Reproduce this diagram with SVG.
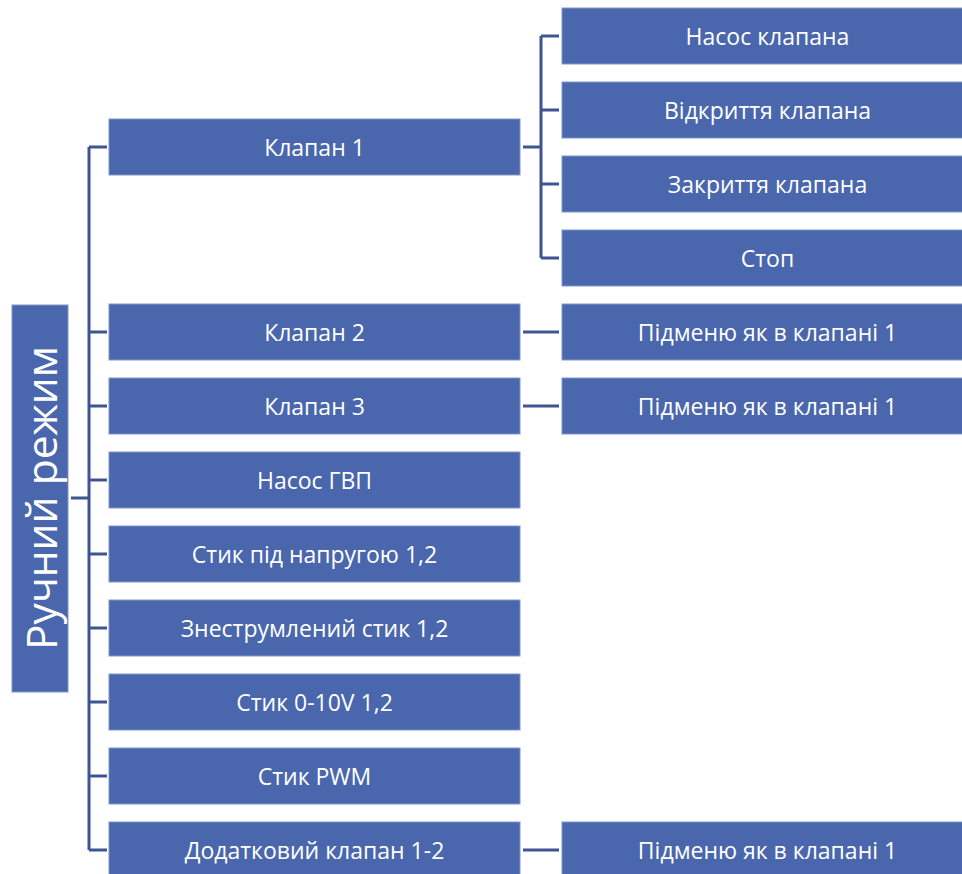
<svg xmlns="http://www.w3.org/2000/svg" width="962" height="874" viewBox="0 0 962 874">
<style>
.b{fill:#4a67ad;stroke:#8095c8;stroke-width:1}
.t{fill:#ffffff;font-family:"Open Sans","Liberation Sans",Arial,sans-serif;font-size:23px;text-anchor:middle;dominant-baseline:central}
.c{fill:none;stroke:#3d5590;stroke-width:3}
</style>
<g id="connectors">
<path class="c" d="M71 498H89M89 147V850M89 147H107M89 332H107M89 406H107M89 480H107M89 554H107M89 628H107M89 702H107M89 776H107M89 850H107"/>
<path class="c" d="M523 147H541M541 36V258M541 36H559M541 110H559M541 184H559M541 258H559"/>
<path class="c" d="M523 332H559M523 406H559M523 850H559"/>
</g>
<g id="root"><rect class="b" x="12" y="305" width="56" height="387"/><text class="t" transform="translate(40 498) rotate(-90)" style="font-size:42.5px">Ручний режим</text></g>
<g id="n1"><rect class="b" x="109" y="119" width="411" height="56"/><text class="t" x="314.5" y="147">Клапан 1</text></g>
<g id="n2"><rect class="b" x="109" y="304" width="411" height="56"/><text class="t" x="314.5" y="332">Клапан 2</text></g>
<g id="n3"><rect class="b" x="109" y="378" width="411" height="56"/><text class="t" x="314.5" y="406">Клапан 3</text></g>
<g id="n4"><rect class="b" x="109" y="452" width="411" height="56"/><text class="t" x="314.5" y="480">Насос ГВП</text></g>
<g id="n5"><rect class="b" x="109" y="526" width="411" height="56"/><text class="t" x="314.5" y="554">Стик під напругою 1,2</text></g>
<g id="n6"><rect class="b" x="109" y="600" width="411" height="56"/><text class="t" x="314.5" y="628">Знеструмлений стик 1,2</text></g>
<g id="n7"><rect class="b" x="109" y="674" width="411" height="56"/><text class="t" x="314.5" y="702">Стик 0-10V 1,2</text></g>
<g id="n8"><rect class="b" x="109" y="748" width="411" height="56"/><text class="t" x="314.5" y="776">Стик PWM</text></g>
<g id="n9"><rect class="b" x="109" y="822" width="411" height="56"/><text class="t" x="314.5" y="850">Додатковий клапан 1-2</text></g>
<g id="s1"><rect class="b" x="562" y="8" width="411" height="56"/><text class="t" x="767.5" y="36">Насос клапана</text></g>
<g id="s2"><rect class="b" x="562" y="82" width="411" height="56"/><text class="t" x="767.5" y="110">Відкриття клапана</text></g>
<g id="s3"><rect class="b" x="562" y="156" width="411" height="56"/><text class="t" x="767.5" y="184">Закриття клапана</text></g>
<g id="s4"><rect class="b" x="562" y="230" width="411" height="56"/><text class="t" x="767.5" y="258">Стоп</text></g>
<g id="s5"><rect class="b" x="562" y="304" width="411" height="56"/><text class="t" x="767.5" y="332">Підменю як в клапані 1</text></g>
<g id="s6"><rect class="b" x="562" y="378" width="411" height="56"/><text class="t" x="767.5" y="406">Підменю як в клапані 1</text></g>
<g id="s7"><rect class="b" x="562" y="822" width="411" height="56"/><text class="t" x="767.5" y="850">Підменю як в клапані 1</text></g>
</svg>
